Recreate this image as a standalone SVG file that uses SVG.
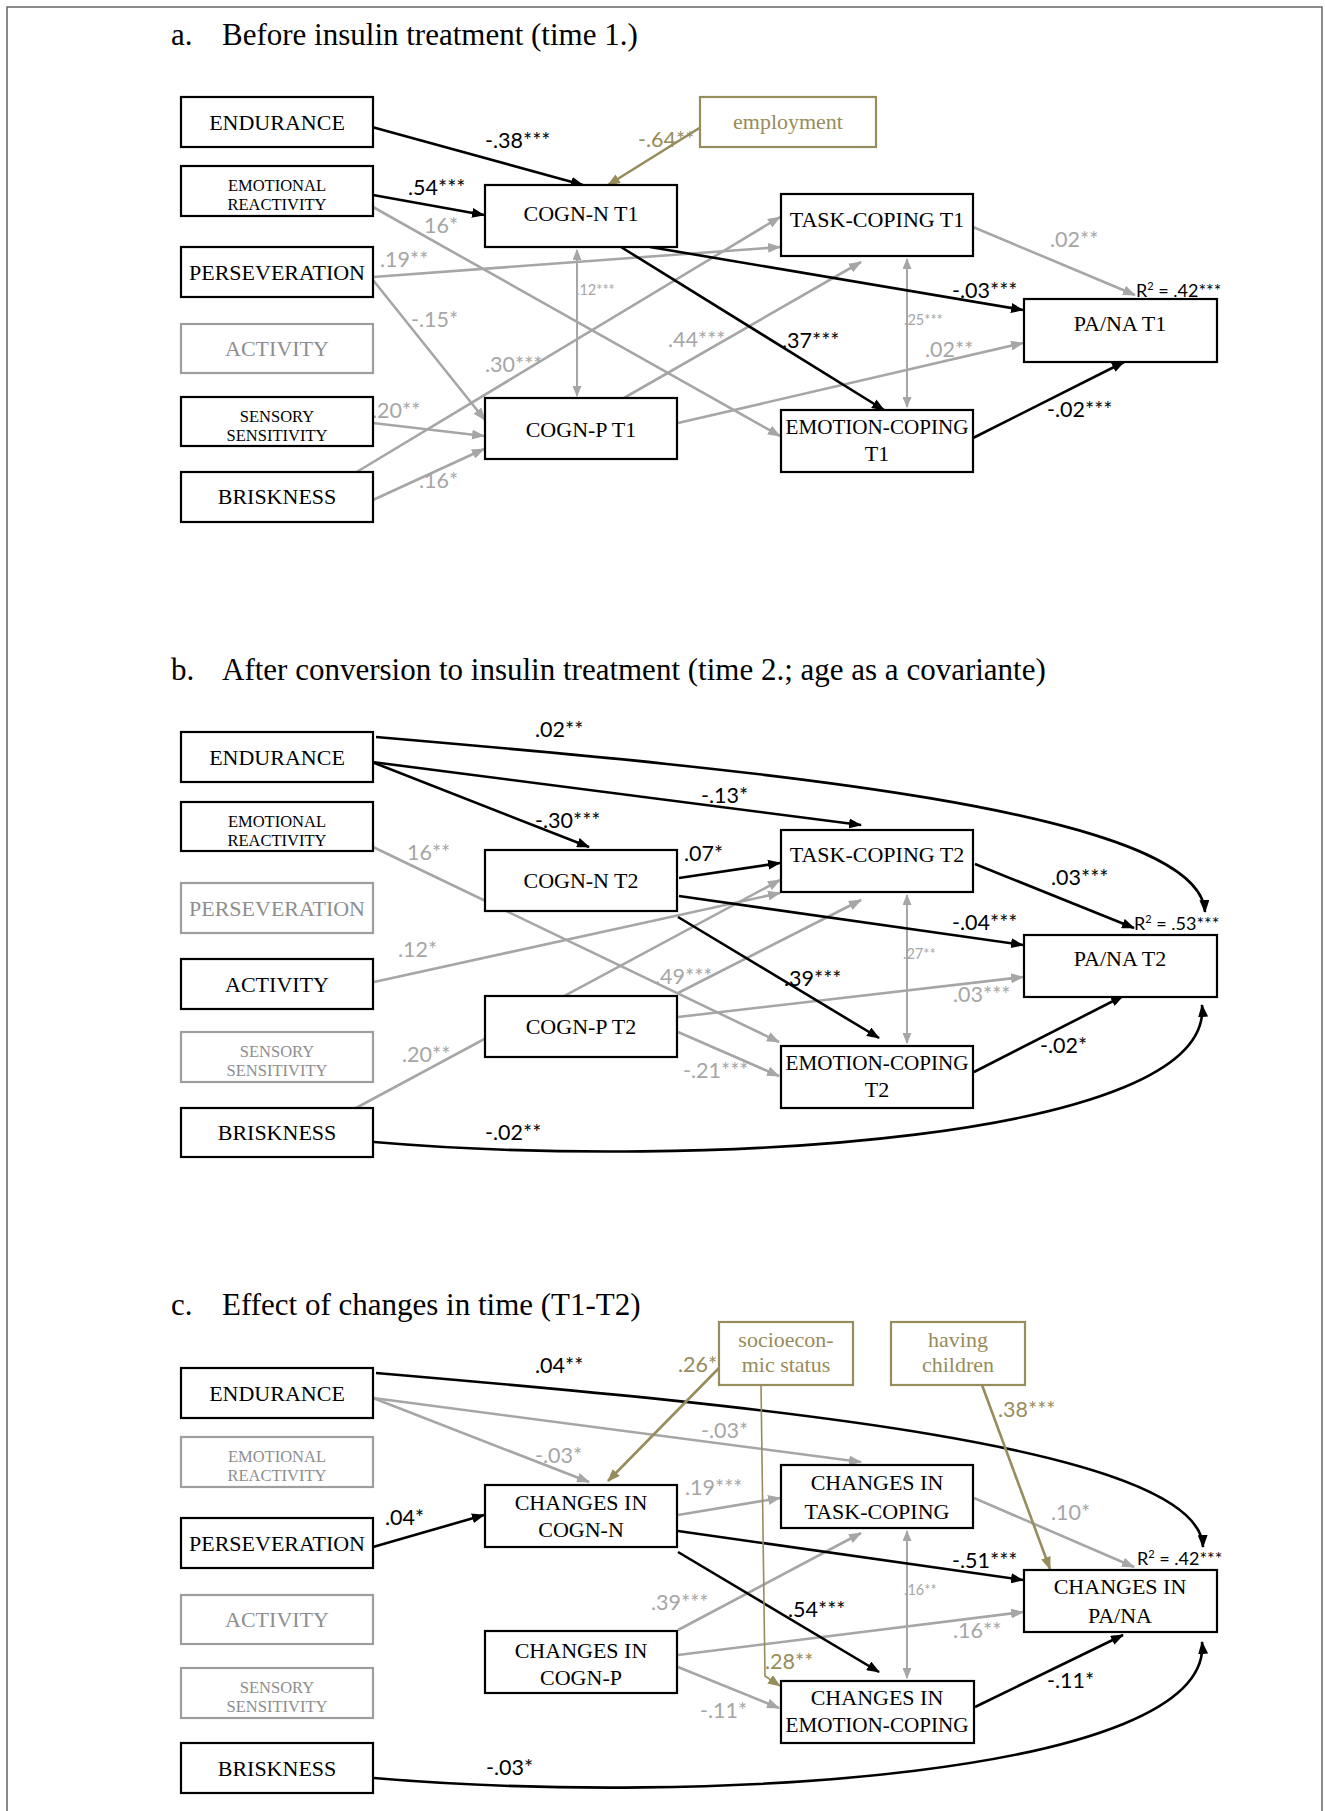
<svg xmlns="http://www.w3.org/2000/svg" width="1325" height="1811" viewBox="0 0 1325 1811">
<style>
.box{fill:#fff;stroke:#000;stroke-width:2.2}
.gbox{fill:#fff;stroke:#9e9e9e;stroke-width:2.2}
.obox{fill:#fff;stroke:#978c5b;stroke-width:2.2}
.nt{font-family:"Liberation Serif",serif;font-size:22px;text-anchor:middle;fill:#000}
.ns{font-size:16.5px}
.gt{fill:#8e8e8e}
.ot{fill:#978c5b}
.title{font-family:"Liberation Serif",serif;font-size:31px;fill:#000}
.lb{font-family:Lato,"Liberation Sans",sans-serif;font-size:21.5px;fill:#000}
.lg{fill:#a6a6a6}
.lo{fill:#978c5b}
.sm{font-size:14.5px}
.r2{font-size:18px}
.cb{fill:none;stroke:#000;stroke-width:2.6;marker-end:url(#ab)}
.cg{fill:none;stroke:#a6a6a6;stroke-width:2.6;marker-end:url(#ag)}
.co{fill:none;stroke:#978c5b;stroke-width:2.6;marker-end:url(#ao)}
.cot{fill:none;stroke:#978c5b;stroke-width:1.6;marker-end:url(#ao)}
.cd{fill:none;stroke:#a6a6a6;stroke-width:2;marker-start:url(#ad);marker-end:url(#ad)}
</style>
<defs>
<marker id="ab" markerWidth="13" markerHeight="10" refX="12" refY="5" orient="auto" markerUnits="userSpaceOnUse"><path d="M0,0 L13,5 L0,10 z" fill="#000"/></marker>
<marker id="ag" markerWidth="13" markerHeight="10" refX="12" refY="5" orient="auto" markerUnits="userSpaceOnUse"><path d="M0,0 L13,5 L0,10 z" fill="#a6a6a6"/></marker>
<marker id="ao" markerWidth="13" markerHeight="10" refX="12" refY="5" orient="auto" markerUnits="userSpaceOnUse"><path d="M0,0 L13,5 L0,10 z" fill="#978c5b"/></marker>
<marker id="ad" markerWidth="11" markerHeight="9" refX="10" refY="4.5" orient="auto-start-reverse" markerUnits="userSpaceOnUse"><path d="M0,0 L11,4.5 L0,9 z" fill="#a6a6a6"/></marker>
</defs>
<rect x="0" y="0" width="1325" height="1811" fill="#fff"/>
<path d="M7,1811 L7,7 L1322,7 L1322,1811" fill="none" stroke="#666" stroke-width="1.5"/>

<g id="titles">
<text class="title" x="171" y="45">a.</text><text class="title" x="222" y="45">Before insulin treatment (time 1.)</text>
<text class="title" x="171" y="680">b.</text><text class="title" x="222" y="680">After conversion to insulin treatment (time 2.; age as a covariante)</text>
<text class="title" x="171" y="1315">c.</text><text class="title" x="222" y="1315">Effect of changes in time (T1-T2)</text>
</g>

<g id="connectors">
<!-- panel a -->
<line class="cg" x1="373" y1="207" x2="780" y2="436"/>
<line class="cg" x1="373" y1="277" x2="780" y2="247"/>
<line class="cg" x1="373" y1="280" x2="485" y2="420"/>
<line class="cg" x1="355" y1="473" x2="780" y2="217"/>
<line class="cg" x1="624" y1="398" x2="861" y2="262"/>
<line class="cg" x1="678" y1="423" x2="1023" y2="343"/>
<line class="cg" x1="973" y1="227" x2="1135" y2="295"/>
<line class="cg" x1="373" y1="423" x2="484" y2="436"/>
<line class="cg" x1="373" y1="500" x2="484" y2="449"/>
<line class="cd" x1="577" y1="250" x2="577" y2="396"/>
<line class="cd" x1="907" y1="259" x2="907" y2="407"/>
<line class="cb" x1="372" y1="127" x2="583" y2="185"/>
<line class="cb" x1="373" y1="195" x2="484" y2="215"/>
<line class="cb" x1="650" y1="247" x2="1023" y2="310"/>
<line class="cb" x1="621" y1="247" x2="884" y2="410"/>
<line class="cb" x1="973" y1="438" x2="1124" y2="362"/>
<line class="co" x1="701" y1="127" x2="608" y2="185"/>
<!-- panel b -->
<line class="cg" x1="373" y1="847" x2="779" y2="1042"/>
<line class="cg" x1="374" y1="982" x2="780" y2="893"/>
<line class="cg" x1="356" y1="1108" x2="780" y2="880"/>
<line class="cg" x1="678" y1="993" x2="861" y2="900"/>
<line class="cg" x1="678" y1="1017" x2="1023" y2="977"/>
<line class="cg" x1="678" y1="1032" x2="779" y2="1076"/>
<line class="cd" x1="907" y1="895" x2="907" y2="1043"/>
<path class="cb" d="M376,737 C760,770 1200,810 1205,912"/>
<line class="cb" x1="372" y1="762" x2="861" y2="825"/>
<line class="cb" x1="372" y1="762" x2="589" y2="847"/>
<line class="cb" x1="679" y1="878" x2="780" y2="863"/>
<line class="cb" x1="679" y1="896" x2="1023" y2="945"/>
<line class="cb" x1="678" y1="917" x2="879" y2="1038"/>
<line class="cb" x1="975" y1="864" x2="1134" y2="928"/>
<line class="cb" x1="974" y1="1072" x2="1123" y2="996"/>
<path class="cb" d="M374,1142 C700,1170 1215,1140 1202,1005"/>
<!-- panel c -->
<line class="cg" x1="373" y1="1398" x2="589" y2="1482"/>
<line class="cg" x1="373" y1="1398" x2="861" y2="1462"/>
<line class="cg" x1="678" y1="1515" x2="780" y2="1498"/>
<line class="cg" x1="974" y1="1498" x2="1134" y2="1567"/>
<line class="cg" x1="678" y1="1630" x2="861" y2="1533"/>
<line class="cg" x1="678" y1="1655" x2="1023" y2="1612"/>
<line class="cg" x1="678" y1="1667" x2="779" y2="1708"/>
<line class="cd" x1="907" y1="1531" x2="907" y2="1678"/>
<path class="cb" d="M376,1373 C760,1406 1200,1446 1203,1547"/>
<line class="cb" x1="373" y1="1547" x2="484" y2="1515"/>
<line class="cb" x1="678" y1="1531" x2="1023" y2="1580"/>
<line class="cb" x1="678" y1="1552" x2="879" y2="1672"/>
<line class="cb" x1="975" y1="1707" x2="1123" y2="1635"/>
<path class="cb" d="M374,1778 C700,1806 1215,1776 1202,1642"/>
<line class="co" x1="719" y1="1368" x2="608" y2="1481"/>
<path class="cot" d="M761,1385 L765,1676 L780,1686"/>
<line class="co" x1="982" y1="1385" x2="1050" y2="1569"/>
</g>

<g id="labels">
<!-- a -->
<text class="lb" x="485" y="148">-.38***</text>
<text class="lb" x="408" y="195">.54***</text>
<text class="lb lo" x="638" y="147">-.64**</text>
<text class="lb" x="952" y="298">-.03***</text>
<text class="lb" x="782" y="348">.37***</text>
<text class="lb" x="1047" y="417">-.02***</text>
<text class="lb lg" x="424" y="233">16*</text>
<text class="lb lg" x="380" y="267">.19**</text>
<text class="lb lg" x="411" y="327">-.15*</text>
<text class="lb lg" x="485" y="372">.30***</text>
<text class="lb lg" x="668" y="347">.44***</text>
<text class="lb lg" x="925" y="357">.02**</text>
<text class="lb lg" x="1050" y="247">.02**</text>
<text class="lb lg" x="372" y="418">.20**</text>
<text class="lb lg" x="419" y="488">.16*</text>
<text class="lb lg sm" x="576" y="295">.12***</text>
<text class="lb lg sm" x="904" y="325">.25***</text>
<text class="lb r2" x="1136" y="297">R<tspan dy="-7" font-size="11">2</tspan><tspan dy="7"> = .42***</tspan></text>
<!-- b -->
<text class="lb" x="535" y="737">.02**</text>
<text class="lb" x="701" y="803">-.13*</text>
<text class="lb" x="535" y="828">-.30***</text>
<text class="lb" x="684" y="861">.07*</text>
<text class="lb" x="952" y="930">-.04***</text>
<text class="lb" x="784" y="986">.39***</text>
<text class="lb" x="1051" y="885">.03***</text>
<text class="lb" x="1040" y="1053">-.02*</text>
<text class="lb" x="485" y="1140">-.02**</text>
<text class="lb lg" x="407" y="860">16**</text>
<text class="lb lg" x="398" y="957">.12*</text>
<text class="lb lg" x="402" y="1062">.20**</text>
<text class="lb lg" x="655" y="984">.49***</text>
<text class="lb lg" x="953" y="1002">.03***</text>
<text class="lb lg" x="683" y="1078">-.21***</text>
<text class="lb lg sm" x="903" y="959">.27**</text>
<text class="lb r2" x="1134" y="930">R<tspan dy="-7" font-size="11">2</tspan><tspan dy="7"> = .53***</tspan></text>
<!-- c -->
<text class="lb" x="535" y="1373">.04**</text>
<text class="lb" x="385" y="1525">.04*</text>
<text class="lb" x="952" y="1568">-.51***</text>
<text class="lb" x="788" y="1617">.54***</text>
<text class="lb" x="1047" y="1688">-.11*</text>
<text class="lb" x="486" y="1775">-.03*</text>
<text class="lb lg" x="535" y="1463">-.03*</text>
<text class="lb lg" x="701" y="1438">-.03*</text>
<text class="lb lg" x="685" y="1495">.19***</text>
<text class="lb lg" x="1051" y="1520">.10*</text>
<text class="lb lg" x="651" y="1610">.39***</text>
<text class="lb lg" x="953" y="1638">.16**</text>
<text class="lb lg" x="700" y="1718">-.11*</text>
<text class="lb lg sm" x="904" y="1595">.16**</text>
<text class="lb lo" x="678" y="1372">.26*</text>
<text class="lb lo" x="765" y="1669">.28**</text>
<text class="lb lo" x="998" y="1417">.38***</text>
<text class="lb r2" x="1137" y="1565">R<tspan dy="-7" font-size="11">2</tspan><tspan dy="7"> = .42***</tspan></text>
</g>

<!-- panel a nodes -->
<g id="a-endurance"><rect class="box" x="181" y="97" width="192" height="50"/><text class="nt" x="277" y="130">ENDURANCE</text></g>
<g id="a-emotional-reactivity"><rect class="box" x="181" y="166" width="192" height="50"/><text class="nt ns" x="277" y="191">EMOTIONAL</text><text class="nt ns" x="277" y="210">REACTIVITY</text></g>
<g id="a-perseveration"><rect class="box" x="181" y="247" width="192" height="50"/><text class="nt" x="277" y="280">PERSEVERATION</text></g>
<g id="a-activity"><rect class="gbox" x="181" y="324" width="192" height="49"/><text class="nt gt" x="277" y="356">ACTIVITY</text></g>
<g id="a-sensory-sensitivity"><rect class="box" x="181" y="397" width="192" height="49"/><text class="nt ns" x="277" y="422">SENSORY</text><text class="nt ns" x="277" y="441">SENSITIVITY</text></g>
<g id="a-briskness"><rect class="box" x="181" y="472" width="192" height="50"/><text class="nt" x="277" y="504">BRISKNESS</text></g>
<g id="a-cogn-n"><rect class="box" x="485" y="185" width="192" height="62"/><text class="nt" x="581" y="221">COGN-N T1</text></g>
<g id="a-cogn-p"><rect class="box" x="485" y="398" width="192" height="61"/><text class="nt" x="581" y="437">COGN-P T1</text></g>
<g id="a-employment"><rect class="obox" x="700" y="97" width="176" height="50"/><text class="nt ot" x="788" y="129">employment</text></g>
<g id="a-task-coping"><rect class="box" x="781" y="194" width="192" height="62"/><text class="nt" x="877" y="227">TASK-COPING T1</text></g>
<g id="a-emotion-coping"><rect class="box" x="781" y="410" width="192" height="62"/><text class="nt" x="877" y="434" textLength="183" lengthAdjust="spacingAndGlyphs">EMOTION-COPING</text><text class="nt" x="877" y="461">T1</text></g>
<g id="a-pana"><rect class="box" x="1024" y="299" width="193" height="63"/><text class="nt" x="1120" y="331">PA/NA T1</text></g>

<!-- panel b nodes -->
<g id="b-endurance"><rect class="box" x="181" y="732" width="192" height="50"/><text class="nt" x="277" y="765">ENDURANCE</text></g>
<g id="b-emotional-reactivity"><rect class="box" x="181" y="802" width="192" height="49"/><text class="nt ns" x="277" y="827">EMOTIONAL</text><text class="nt ns" x="277" y="846">REACTIVITY</text></g>
<g id="b-perseveration"><rect class="gbox" x="181" y="883" width="192" height="50"/><text class="nt gt" x="277" y="916">PERSEVERATION</text></g>
<g id="b-activity"><rect class="box" x="181" y="959" width="192" height="50"/><text class="nt" x="277" y="992">ACTIVITY</text></g>
<g id="b-sensory-sensitivity"><rect class="gbox" x="181" y="1032" width="192" height="50"/><text class="nt ns gt" x="277" y="1057">SENSORY</text><text class="nt ns gt" x="277" y="1076">SENSITIVITY</text></g>
<g id="b-briskness"><rect class="box" x="181" y="1108" width="192" height="49"/><text class="nt" x="277" y="1140">BRISKNESS</text></g>
<g id="b-cogn-n"><rect class="box" x="485" y="850" width="192" height="61"/><text class="nt" x="581" y="888">COGN-N T2</text></g>
<g id="b-cogn-p"><rect class="box" x="485" y="996" width="192" height="61"/><text class="nt" x="581" y="1034">COGN-P T2</text></g>
<g id="b-task-coping"><rect class="box" x="781" y="830" width="192" height="62"/><text class="nt" x="877" y="862">TASK-COPING T2</text></g>
<g id="b-emotion-coping"><rect class="box" x="781" y="1046" width="192" height="62"/><text class="nt" x="877" y="1070" textLength="183" lengthAdjust="spacingAndGlyphs">EMOTION-COPING</text><text class="nt" x="877" y="1097">T2</text></g>
<g id="b-pana"><rect class="box" x="1024" y="935" width="193" height="62"/><text class="nt" x="1120" y="966">PA/NA T2</text></g>

<!-- panel c nodes -->
<g id="c-endurance"><rect class="box" x="181" y="1368" width="192" height="50"/><text class="nt" x="277" y="1401">ENDURANCE</text></g>
<g id="c-emotional-reactivity"><rect class="gbox" x="181" y="1437" width="192" height="50"/><text class="nt ns gt" x="277" y="1462">EMOTIONAL</text><text class="nt ns gt" x="277" y="1481">REACTIVITY</text></g>
<g id="c-perseveration"><rect class="box" x="181" y="1518" width="192" height="50"/><text class="nt" x="277" y="1551">PERSEVERATION</text></g>
<g id="c-activity"><rect class="gbox" x="181" y="1595" width="192" height="49"/><text class="nt gt" x="277" y="1627">ACTIVITY</text></g>
<g id="c-sensory-sensitivity"><rect class="gbox" x="181" y="1668" width="192" height="50"/><text class="nt ns gt" x="277" y="1693">SENSORY</text><text class="nt ns gt" x="277" y="1712">SENSITIVITY</text></g>
<g id="c-briskness"><rect class="box" x="181" y="1743" width="192" height="50"/><text class="nt" x="277" y="1776">BRISKNESS</text></g>
<g id="c-cogn-n"><rect class="box" x="485" y="1485" width="192" height="62"/><text class="nt" x="581" y="1510">CHANGES IN</text><text class="nt" x="581" y="1537">COGN-N</text></g>
<g id="c-cogn-p"><rect class="box" x="485" y="1631" width="192" height="62"/><text class="nt" x="581" y="1658">CHANGES IN</text><text class="nt" x="581" y="1685">COGN-P</text></g>
<g id="c-socioeconomic"><rect class="obox" x="719" y="1322" width="134" height="63"/><text class="nt ot" x="786" y="1347">socioecon-</text><text class="nt ot" x="786" y="1372">mic status</text></g>
<g id="c-children"><rect class="obox" x="891" y="1322" width="134" height="63"/><text class="nt ot" x="958" y="1347">having</text><text class="nt ot" x="958" y="1372">children</text></g>
<g id="c-task-coping"><rect class="box" x="781" y="1465" width="192" height="63"/><text class="nt" x="877" y="1490">CHANGES IN</text><text class="nt" x="877" y="1519">TASK-COPING</text></g>
<g id="c-emotion-coping"><rect class="box" x="781" y="1681" width="193" height="62"/><text class="nt" x="877" y="1705">CHANGES IN</text><text class="nt" x="877" y="1732" textLength="183" lengthAdjust="spacingAndGlyphs">EMOTION-COPING</text></g>
<g id="c-pana"><rect class="box" x="1024" y="1570" width="193" height="62"/><text class="nt" x="1120" y="1594">CHANGES IN</text><text class="nt" x="1120" y="1623">PA/NA</text></g>
</svg>
